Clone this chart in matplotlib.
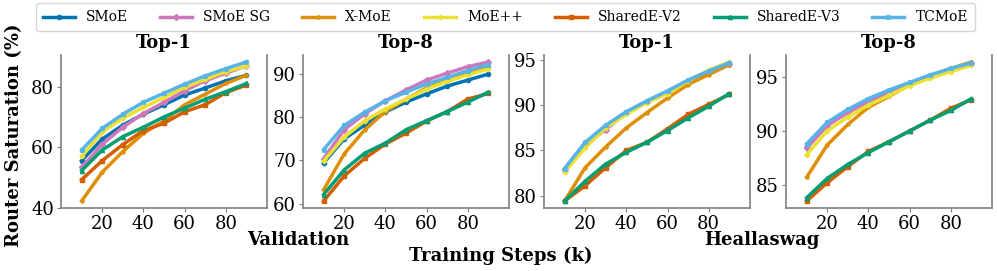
import matplotlib.pyplot as plt
import numpy as np

plt.rcParams['font.family'] = ['DejaVu Serif']

steps = [10, 20, 30, 40, 50, 60, 70, 80, 90]

methods = ['SMoE', 'SMoE SG', 'X-MoE', 'MoE++', 'SharedE-V2', 'SharedE-V3', 'TCMoE']
colors = ['#0173b2', '#cc78bc', '#de8f05', '#ece133', '#d55e00', '#029e73', '#56b4e9']
markers = ['o', 'D', '*', 'P', 's', '^', 'X']

## VALIDATION ##

val_top1 = {
  'SMoE':       [55.6, 62.7, 67.3, 70.9, 74.0, 77.2, 79.5, 81.9, 83.7],
  'SMoE SG':    [53.4, 61.0, 66.6, 71.1, 74.8, 78.6, 81.9, 84.4, 86.8],
  'X-MoE':      [42.3, 51.8, 58.6, 64.6, 68.7, 74.0, 77.5, 81.0, 83.7],
  'MoE++':      [57.0, 65.0, 69.6, 73.1, 76.4, 79.7, 82.4, 84.9, 86.8],
  'SharedE-V2': [49.3, 55.6, 60.9, 65.5, 67.9, 71.7, 74.0, 78.0, 80.5],
  'SharedE-V3': [52.3, 59.1, 63.5, 66.6, 70.0, 72.9, 75.8, 78.3, 81.0],
  'TCMoE':      [59.1, 66.2, 70.9, 74.8, 77.8, 80.8, 83.5, 85.9, 88.1],
}

val_top8 = {
  'SMoE':       [69.4, 75.0, 78.2, 81.2, 83.5, 85.4, 87.2, 88.6, 90.0],
  'SMoE SG':    [70.4, 77.1, 80.8, 83.8, 86.3, 88.6, 90.2, 91.7, 92.8],
  'X-MoE':      [63.2, 71.5, 77.1, 81.3, 84.2, 86.8, 88.5, 90.0, 91.5],
  'MoE++':      [69.8, 75.4, 79.2, 81.9, 84.2, 86.5, 88.3, 89.8, 91.2],
  'SharedE-V2': [60.6, 66.4, 70.5, 73.8, 76.3, 79.1, 81.3, 84.2, 85.5],
  'SharedE-V3': [62.1, 67.8, 71.7, 74.0, 77.1, 79.2, 81.3, 83.5, 85.8],
  'TCMoE':      [72.5, 78.1, 81.2, 83.8, 85.8, 87.7, 89.2, 90.8, 92.2],
}

## HELLASWAG ##

hs_top1 = {
  'SMoE':       [82.9, 85.8, 87.6, 89.2, 90.4, 91.5, 92.7, 93.7, 94.6],
  'SMoE SG':    [82.8, 85.7, 87.3, 89.2, 90.4, 91.5, 92.7, 93.8, 94.6],
  'X-MoE':      [79.4, 83.1, 85.4, 87.5, 89.2, 90.8, 92.3, 93.4, 94.5],
  'MoE++':      [82.6, 85.3, 87.5, 89.0, 90.3, 91.3, 92.7, 93.9, 94.8],
  'SharedE-V2': [79.4, 81.1, 83.1, 85.0, 85.9, 87.4, 89.0, 90.1, 91.2],
  'SharedE-V3': [79.4, 81.6, 83.5, 84.8, 85.9, 87.2, 88.6, 89.9, 91.3],
  'TCMoE':      [83.0, 85.9, 87.8, 89.3, 90.5, 91.6, 92.8, 93.8, 94.7],
}

hs_top8 = {
  'SMoE':       [88.5, 90.6, 91.8, 92.8, 93.6, 94.4, 95.1, 95.7, 96.2],
  'SMoE SG':    [88.4, 90.5, 91.7, 92.7, 93.6, 94.4, 95.1, 95.7, 96.3],
  'X-MoE':      [85.7, 88.7, 90.6, 92.2, 93.2, 94.3, 95.1, 95.8, 96.4],
  'MoE++':      [87.8, 90.0, 91.3, 92.4, 93.3, 94.2, 94.9, 95.5, 96.1],
  'SharedE-V2': [83.5, 85.2, 86.7, 88.1, 89.0, 90.0, 91.0, 92.1, 92.9],
  'SharedE-V3': [83.8, 85.6, 86.9, 88.0, 89.0, 90.0, 91.0, 91.9, 93.0],
  'TCMoE':      [88.8, 90.8, 92.0, 93.0, 93.8, 94.5, 95.2, 95.8, 96.3],
}

panels = [val_top1, val_top8, hs_top1, hs_top8]
titles = ['Top-1', 'Top-8', 'Top-1', 'Top-8']
yticks = [[40, 60, 80], [60, 70, 80, 90], [80, 85, 90, 95], [85, 90, 95]]
xticks = [20, 40, 60, 80]

fig = plt.figure(figsize=(9.97, 2.71), dpi=100)
lefts = [0.0612, 0.3039, 0.5456, 0.7884]
axs = [fig.add_axes([l, 0.2325, 0.2066, 0.5646]) for l in lefts]

for ax, data, title, yt in zip(axs, panels, titles, yticks):
  for name, c, m in zip(methods, colors, markers):
    ax.plot(steps, data[name], color=c, marker=m, markersize=3, linewidth=2.5, label=name)
  ax.set_xlim(0, 100)
  ax.set_xticks(xticks)
  ax.set_yticks(yt)
  ax.set_title(title, fontsize=13, fontweight='bold', pad=5)
  ax.tick_params(labelsize=13, length=3, color='0.5', pad=2)
  ax.spines['top'].set_visible(False)
  for s in ['left', 'right', 'bottom']:
    ax.spines[s].set_color('0.5')
    ax.spines[s].set_linewidth(1.2)

fig.text(0.014, 0.5, 'Router Saturation (%)', rotation=90, ha='center', va='center',
         fontsize=13, fontweight='bold')
fig.text(0.299, 0.115, 'Validation', ha='center', va='center', fontsize=13, fontweight='bold')
fig.text(0.764, 0.115, 'Heallaswag', ha='center', va='center', fontsize=13, fontweight='bold')
fig.text(0.502, 0.055, 'Training Steps (k)', ha='center', va='center', fontsize=13, fontweight='bold')

handles, labels = axs[0].get_legend_handles_labels()
fig.legend(handles, labels, loc='upper center', bbox_to_anchor=(0.507, 1.0), ncol=7,
           fontsize=10, frameon=True, handlelength=2.3, columnspacing=2.3,
           borderpad=0.5, borderaxespad=0.25)

fig.savefig('out.png', dpi=100)
